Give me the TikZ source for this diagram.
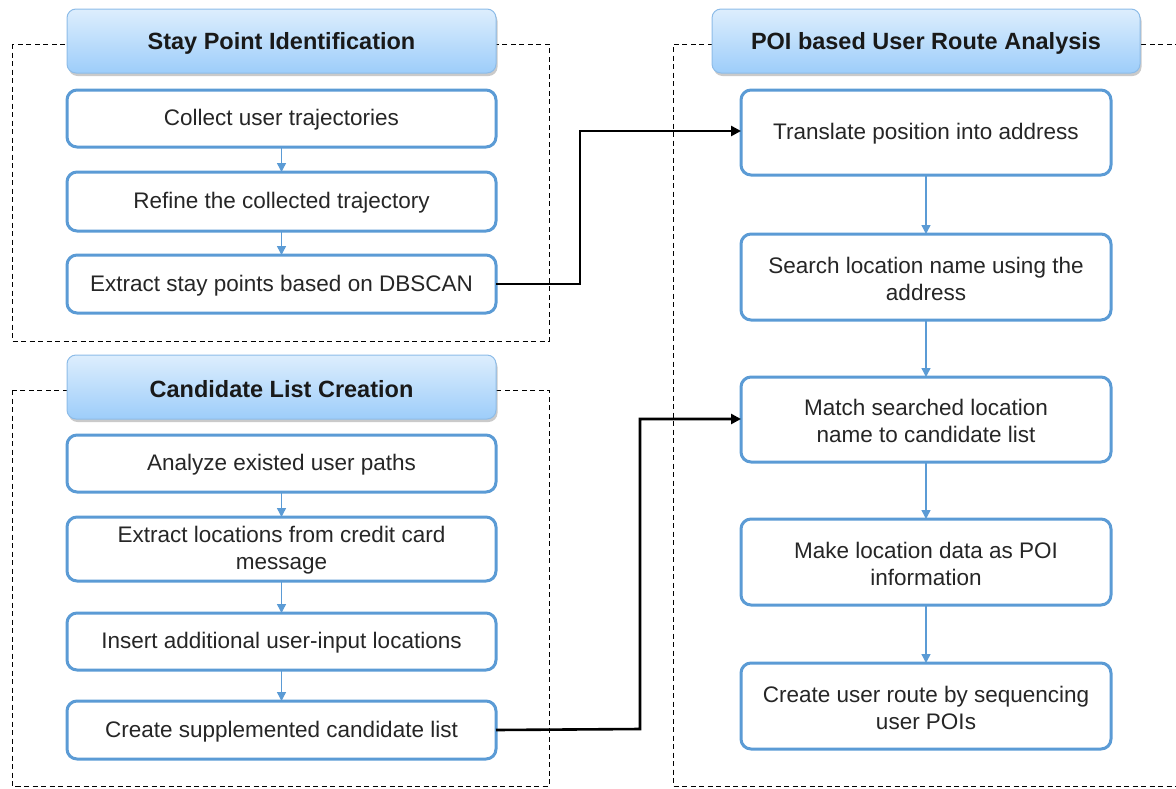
\documentclass[tikz,border=0pt]{standalone}
\usepackage{fontspec}
\setmainfont{Liberation Sans}
\usetikzlibrary{arrows.meta,shadows}
\definecolor{boxblue}{HTML}{5B9BD5}
\definecolor{hdtop}{HTML}{DDEEFD}
\definecolor{hdbot}{HTML}{9DCDFA}
\definecolor{hdline}{HTML}{8DBCE8}
\tikzset{
  frame/.style={draw=black, line width=0.9pt, dash pattern=on 5pt off 3.5pt},
  header/.style={draw=hdline, line width=1pt, rounded corners=9pt,
    top color=hdtop, bottom color=hdbot,
    drop shadow={shadow xshift=1.5pt, shadow yshift=-3pt, opacity=0.35, fill=black!60}},
  stepbox/.style={draw=boxblue, line width=3pt, fill=white, rounded corners=10pt},
  hdtext/.style={font=\fontsize{23.5}{27}\selectfont\bfseries, text=black!90, yshift=-2pt},
  bodytext/.style={font=\fontsize{22.5}{27}\selectfont, text=black!85, align=center, yshift=-1.5pt},
  flow/.style={draw=boxblue, line width=1.4pt, -{Triangle[length=9pt,width=9pt]}},
  link/.style={draw=black, line width=2.6pt, -{Triangle[length=10pt,width=10pt]}}
}
\begin{document}
\begin{tikzpicture}[x=1pt,y=-1pt]
\useasboundingbox (0,0) rectangle (1176,788);

% dashed group frames
\draw[frame] (12,44) rectangle (549,341);
\draw[frame] (12,390) rectangle (549,786);
\draw[frame] (1180,44) -- (673,44) -- (673,786) -- (1180,786);

% group headers
\path[header] (67,9) rectangle (496,73);
\node[hdtext] (h1) at (281.5,41) {Stay Point Identification};
\path[header] (67,355) rectangle (496,419);
\node[hdtext] (h2) at (281.5,387) {Candidate List Creation};
\path[header] (712,9) rectangle (1140,73);
\node[hdtext] (h3) at (926,41) {POI based User Route Analysis};

% a step box with its text and four anchor points
\newcommand{\stepnode}[6]{%
  \path[stepbox] (#2,#3) rectangle (#4,#5);
  \node[bodytext] (#1) at ({(#2+#4)/2},{(#3+#5)/2}) {#6};
  \coordinate (#1-n) at ({(#2+#4)/2},#3);
  \coordinate (#1-s) at ({(#2+#4)/2},#5);
  \coordinate (#1-e) at (#4,{(#3+#5)/2});
  \coordinate (#1-w) at (#2,{(#3+#5)/2});}

% left column steps (upper group)
\stepnode{a1}{67}{90}{496}{147}{Collect user trajectories}
\stepnode{a2}{67}{172}{496}{231}{Refine the collected trajectory}
\stepnode{a3}{67}{255}{496}{313}{Extract stay points based on DBSCAN}

% left column steps (lower group)
\stepnode{b1}{67}{435}{496}{492}{Analyze existed user paths}
\stepnode{b2}{67}{517}{496}{581}{Extract locations from credit card\\message}
\stepnode{b3}{67}{613}{496}{670}{Insert additional user-input locations}
\stepnode{b4}{67}{701}{496}{759}{Create supplemented candidate list}

% right column steps
\stepnode{c1}{741}{90}{1111}{175}{Translate position into address}
\stepnode{c2}{741}{234}{1111}{320}{Search location name using the\\address}
\stepnode{c3}{741}{377}{1111}{462}{Match searched location\\name to candidate list}
\stepnode{c4}{741}{519}{1111}{605}{Make location data as POI\\information}
\stepnode{c5}{741}{663}{1111}{749}{Create user route by sequencing\\user POIs}

% flow inside groups
\draw[flow] (a1-s) -- (a2-n);
\draw[flow] (a2-s) -- (a3-n);
\draw[flow] (b1-s) -- (b2-n);
\draw[flow] (b2-s) -- (b3-n);
\draw[flow] (b3-s) -- (b4-n);
\draw[flow] (c1-s) -- (c2-n);
\draw[flow] (c2-s) -- (c3-n);
\draw[flow] (c3-s) -- (c4-n);
\draw[flow] (c4-s) -- (c5-n);

% links between groups
\coordinate (c1-in) at (741,131);
\coordinate (c3-in) at (741,419);
\draw[link] (a3-e) -- (580,284) -- (580,131) -- (c1-in);
\draw[link] (b4-e) -- (640,729) -- (640,419) -- (c3-in);
\end{tikzpicture}
\end{document}
